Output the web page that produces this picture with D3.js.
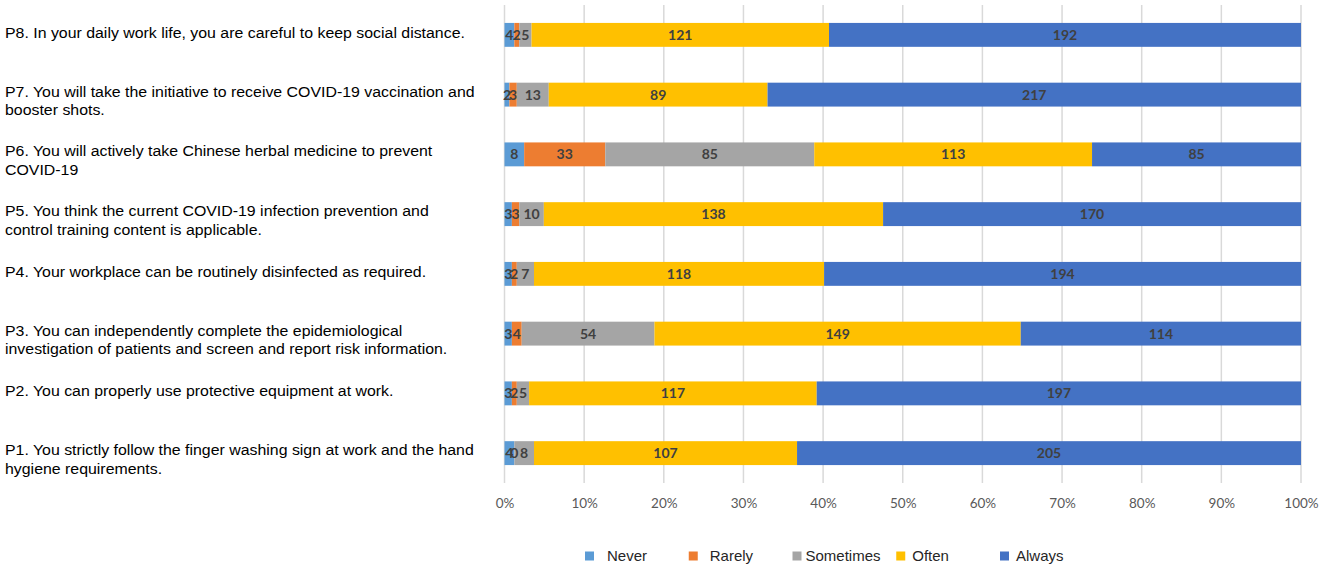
<!DOCTYPE html>
<html><head><meta charset="utf-8">
<script src="https://cdn.jsdelivr.net/npm/d3@7"></script>
<style>body{margin:0;background:#fff;} svg{display:block;}</style>
</head><body>
<svg id="chart" width="1325" height="570"></svg>
<script>
const categories = [
  "P8. In your daily work life, you are careful to keep social distance.",
  "P7. You will take the initiative to receive COVID-19 vaccination and|booster shots.",
  "P6. You will actively take Chinese herbal medicine to prevent|COVID-19",
  "P5. You think the current COVID-19 infection prevention and|control training content is applicable.",
  "P4. Your workplace can be routinely disinfected as required.",
  "P3. You can independently complete the epidemiological|investigation of patients and screen and report risk information.",
  "P2. You can properly use protective equipment at work.",
  "P1. You strictly follow the finger washing sign at work and the hand|hygiene requirements."
];
const seriesNames = ["Never","Rarely","Sometimes","Often","Always"];
const never     = [4, 2, 8, 3, 3, 3, 3, 4];
const rarely    = [2, 3, 33, 3, 2, 4, 2, 0];
const sometimes = [5, 13, 85, 10, 7, 54, 5, 8];
const often     = [121, 89, 113, 138, 118, 149, 117, 107];
const always    = [192, 217, 85, 170, 194, 114, 197, 205];
const tickLabels = ["0%","10%","20%","30%","40%","50%","60%","70%","80%","90%","100%"];
const colors = ["#5B9BD5","#ED7D31","#A5A5A5","#FFC000","#4472C4"];

const seriesValues = [never, rarely, sometimes, often, always];
const rows = categories.map((c, i) => {
  const r = {cat: c};
  seriesNames.forEach((s, j) => r[s] = seriesValues[j][i]);
  r.total = d3.sum(seriesValues, v => v[i]);
  return r;
});
const normRows = rows.map(r => {
  const o = {cat: r.cat};
  seriesNames.forEach(s => o[s] = r[s] / r.total);
  o.raw = r;
  return o;
});
const stack = d3.stack().keys(seriesNames)(normRows);

const svg = d3.select("#chart");
const x = d3.scaleLinear().domain([0, 1]).range([504.5, 1301]);
const y = d3.scaleBand().domain(categories).range([5, 483]).paddingInner(0.6).paddingOuter(0.3);
const color = d3.scaleOrdinal().domain(seriesNames).range(colors);

// gridlines
const ticks = d3.range(0, 1.0001, 0.1);
svg.append("g").selectAll("line").data(ticks).join("line")
  .attr("x1", d => x(d)).attr("x2", d => x(d))
  .attr("y1", 5).attr("y2", 483)
  .attr("stroke", "#D9D9D9").attr("stroke-width", 1.5);

// axis labels
const axis = d3.axisBottom(x).tickValues(ticks).tickFormat((d, i) => tickLabels[i]).tickSize(0).tickPadding(0);
const ag = svg.append("g").attr("transform", "translate(0,498)").call(axis);
ag.select(".domain").remove();
ag.selectAll("text").attr("font-family", "Lato, 'Liberation Sans', sans-serif").attr("font-size", 13.5).attr("fill", "#595959").attr("dy", "0.71em");

// bars
const layers = svg.append("g").selectAll("g").data(stack).join("g").attr("fill", d => color(d.key));
layers.selectAll("rect").data(d => d).join("rect")
  .attr("x", d => x(d[0]))
  .attr("y", d => y(d.data.cat))
  .attr("width", d => x(d[1]) - x(d[0]))
  .attr("height", y.bandwidth());

// value labels
const lab = svg.append("g");
stack.forEach(layer => {
  lab.selectAll(null).data(layer).join("text")
    .attr("x", d => (x(d[0]) + x(d[1])) / 2)
    .attr("y", d => y(d.data.cat) + y.bandwidth() / 2)
    .attr("dy", "0.36em")
    .attr("text-anchor", "middle")
    .attr("font-family", "Lato, 'Liberation Sans', sans-serif")
    .attr("font-weight", "bold")
    .attr("font-size", 14)
    .attr("fill", "#404040")
    .text(d => d.data.raw[layer.key]);
});

// category labels
const cg = svg.append("g").attr("transform", "translate(5,0) scale(1.06,1)");
categories.forEach(c => {
  const lines = c.split("|");
  const cy = y(c) + y.bandwidth() / 2;
  const t = cg.append("text")
    .attr("x", 0)
    .attr("font-family", "'Liberation Sans', Arial, sans-serif")
    .attr("font-size", 15)
    .attr("fill", "#000");
  lines.forEach((l, k) => {
    t.append("tspan").attr("x", 0)
      .attr("y", lines.length === 1 ? cy + 3 : cy + 2 + k * 18.5)
      .text(l);
  });
});

// legend
const lx = d3.scalePoint().domain(seriesNames).range([585, 1000]);
const lg = svg.append("g").selectAll("g").data(seriesNames).join("g")
  .attr("transform", d => `translate(${lx(d)},556)`);
lg.append("rect").attr("x", 0).attr("y", -4.5).attr("width", 9).attr("height", 9).attr("fill", d => color(d));
lg.append("text").attr("x", (d, i) => [22, 21, 13, 16, 16][i]).attr("dy", "0.36em")
  .attr("font-family", "'Liberation Sans', Arial, sans-serif").attr("font-size", 15).attr("fill", "#262626")
  .text(d => d);
</script>
</body></html>
